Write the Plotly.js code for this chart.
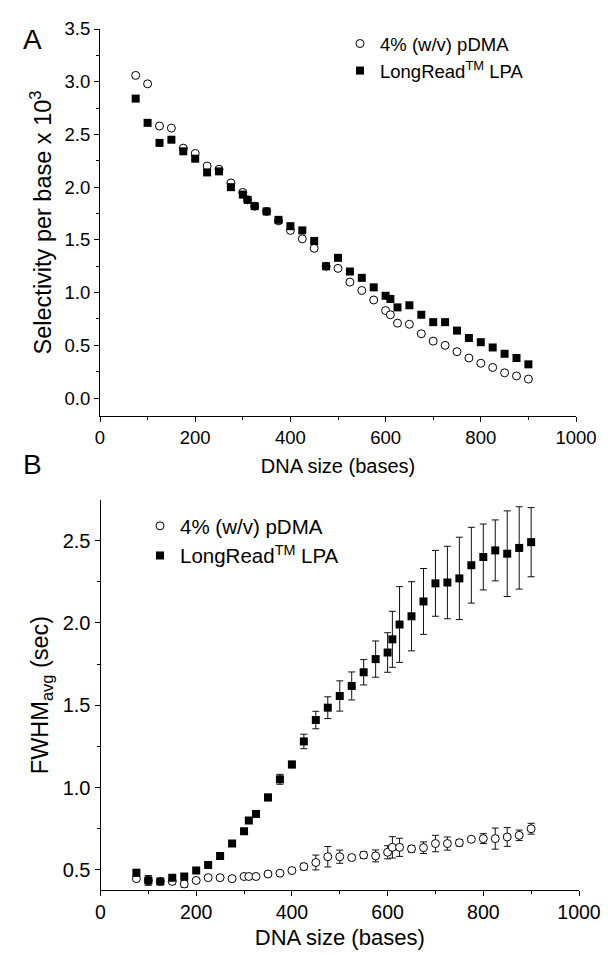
<!DOCTYPE html>
<html>
<head>
<meta charset="utf-8">
<script src="https://cdn.plot.ly/plotly-3.0.1.min.js"></script>
<style>html,body{margin:0;padding:0;background:#fff;}#chart{width:608px;height:959px;}</style>
</head>
<body>
<div id="chart"></div>
<script>
// ---- data ----
var sizes = [75,100,125,150,175,200,225,250,275,300,310,325,350,375,400,425,450,475,500,525,550,575,600,610,625,650,675,700,725,750,775,800,825,850,875,900];

// Panel A: selectivity per base x 10^3
var selPDMA = [3.06,2.98,2.58,2.56,2.37,2.32,2.20,2.17,2.04,1.95,1.88,1.82,1.77,1.68,1.59,1.51,1.42,1.25,1.23,1.10,1.02,0.93,0.83,0.79,0.71,0.70,0.61,0.54,0.50,0.44,0.38,0.33,0.29,0.24,0.21,0.18];
var selLPA  = [2.84,2.61,2.42,2.45,2.34,2.27,2.14,2.15,2.00,1.93,1.88,1.82,1.77,1.69,1.63,1.59,1.49,1.25,1.33,1.20,1.14,1.05,0.97,0.94,0.86,0.88,0.79,0.72,0.72,0.64,0.57,0.53,0.48,0.42,0.38,0.32];

// Panel B: FWHM avg (sec) with error
var fwPDMA    = [0.447,0.436,0.43,0.43,0.415,0.436,0.453,0.453,0.447,0.46,0.46,0.46,0.475,0.48,0.496,0.52,0.545,0.58,0.58,0.575,0.59,0.585,0.607,0.637,0.637,0.628,0.635,0.66,0.66,0.665,0.686,0.69,0.69,0.70,0.71,0.75];
var fwPDMAerr = [0.01,0.02,0.01,0.015,0.02,0.01,0.01,0.01,0.01,0.01,0.01,0.01,0.01,0.01,0.01,0.02,0.045,0.062,0.04,0.01,0.02,0.036,0.04,0.065,0.055,0.02,0.035,0.05,0.04,0.02,0.01,0.03,0.064,0.057,0.032,0.033];
var fwLPA     = [0.483,0.436,0.43,0.453,0.46,0.496,0.53,0.585,0.66,0.735,0.80,0.84,0.94,1.05,1.14,1.28,1.41,1.485,1.556,1.617,1.70,1.78,1.82,1.90,1.99,2.04,2.13,2.24,2.245,2.27,2.35,2.40,2.44,2.42,2.455,2.49];
var fwLPAerr  = [0.02,0.03,0.01,0.01,0.01,0.01,0.01,0.01,0.01,0.01,0.01,0.01,0.02,0.03,0.02,0.044,0.053,0.066,0.092,0.085,0.077,0.11,0.12,0.17,0.23,0.21,0.2,0.2,0.22,0.25,0.23,0.2,0.185,0.26,0.25,0.21];

var nameA = "4% (w/v) pDMA";
var nameB = "LongRead<sup>TM</sup> LPA";

// ---- layout helpers ----
var W = 608, H = 959;
function px(x){ return x / W; }
function py(y){ return 1 - y / H; }
var FONT = "Liberation Sans, Arial, sans-serif";

var circ = {symbol:"circle", size:8, color:"#fff", line:{width:1, color:"#000"}};
var sq = {symbol:"square", size:8, color:"#000", line:{width:0}};

var traces = [
  {x:sizes, y:selPDMA, type:"scatter", mode:"markers", name:nameA, marker:circ, xaxis:"x", yaxis:"y", legend:"legend"},
  {x:sizes, y:selLPA, type:"scatter", mode:"markers", name:nameB, marker:sq, xaxis:"x", yaxis:"y", legend:"legend"},
  {x:sizes, y:fwPDMA, type:"scatter", mode:"markers", name:nameA, marker:circ, xaxis:"x2", yaxis:"y2", legend:"legend2",
   error_y:{type:"data", array:fwPDMAerr, visible:true, color:"#111", thickness:1, width:3.5}},
  {x:sizes, y:fwLPA, type:"scatter", mode:"markers", name:nameB, marker:sq, xaxis:"x2", yaxis:"y2", legend:"legend2",
   error_y:{type:"data", array:fwLPAerr, visible:true, color:"#111", thickness:1, width:3.5}}
];

function xax(dom, anchor, tf, ttf, so){
  return {domain:dom, anchor:anchor, range:[0,1000], showline:true, linecolor:"#000", linewidth:1,
    ticks:"outside", ticklen:5, tickwidth:1, tickcolor:"#000", dtick:200, tick0:0,
    minor:{dtick:100, ticks:"outside", ticklen:3, tickwidth:1, tickcolor:"#000"},
    showgrid:false, zeroline:false, tickfont:{family:FONT, size:tf, color:"#000"},
    title:{text:"DNA size (bases)", font:{family:FONT, size:ttf, color:"#000"}, standoff:so}};
}
function yax(dom, anchor, rng, title, tf, ttf, so){
  return {domain:dom, anchor:anchor, range:rng, showline:true, linecolor:"#000", linewidth:1,
    ticks:"outside", ticklen:5, tickwidth:1, tickcolor:"#000", dtick:0.5, tick0:0, tickformat:".1f",
    minor:{dtick:0.25, ticks:"outside", ticklen:3, tickwidth:1, tickcolor:"#000"},
    showgrid:false, zeroline:false, tickfont:{family:FONT, size:tf, color:"#000"},
    title:{text:title, font:{family:FONT, size:ttf, color:"#000"}, standoff:so}};
}

var layout = {
  width:W, height:H, margin:{l:0, r:0, t:0, b:0}, paper_bgcolor:"#fff", plot_bgcolor:"#fff",
  showlegend:true,
  xaxis: xax([px(100), px(576)], "y", 18.5, 20, 11),
  yaxis: yax([py(416), py(29)], "x", [-0.17, 3.5], "Selectivity per base x 10<sup>3</sup>", 18.5, 23.5, 6),
  xaxis2: xax([px(100.5), px(579)], "y2", 19.5, 22, 7),
  yaxis2: yax([py(890), py(500)], "x2", [0.378, 2.746], "FWHM<sub>avg</sub> (sec)", 20, 23.5, 7),
  legend: {x:px(340), y:py(25), xanchor:"left", yanchor:"top", bgcolor:"rgba(0,0,0,0)",
    font:{family:FONT, size:18.5, color:"#000"}, itemwidth:30, tracegroupgap:0},
  legend2: {x:px(140), y:py(506), xanchor:"left", yanchor:"top", bgcolor:"rgba(0,0,0,0)",
    font:{family:FONT, size:20.5, color:"#000"}, itemwidth:30, tracegroupgap:0},
  annotations:[
    {text:"A", x:px(21), y:py(22), xref:"paper", yref:"paper", showarrow:false, font:{family:FONT, size:28, color:"#000"}},
    {text:"B", x:px(21), y:py(464), xref:"paper", yref:"paper", showarrow:false, font:{family:FONT, size:28, color:"#000"}}
  ]
};

Plotly.newPlot("chart", traces, layout, {displayModeBar:false, staticPlot:true});
</script>
</body>
</html>
